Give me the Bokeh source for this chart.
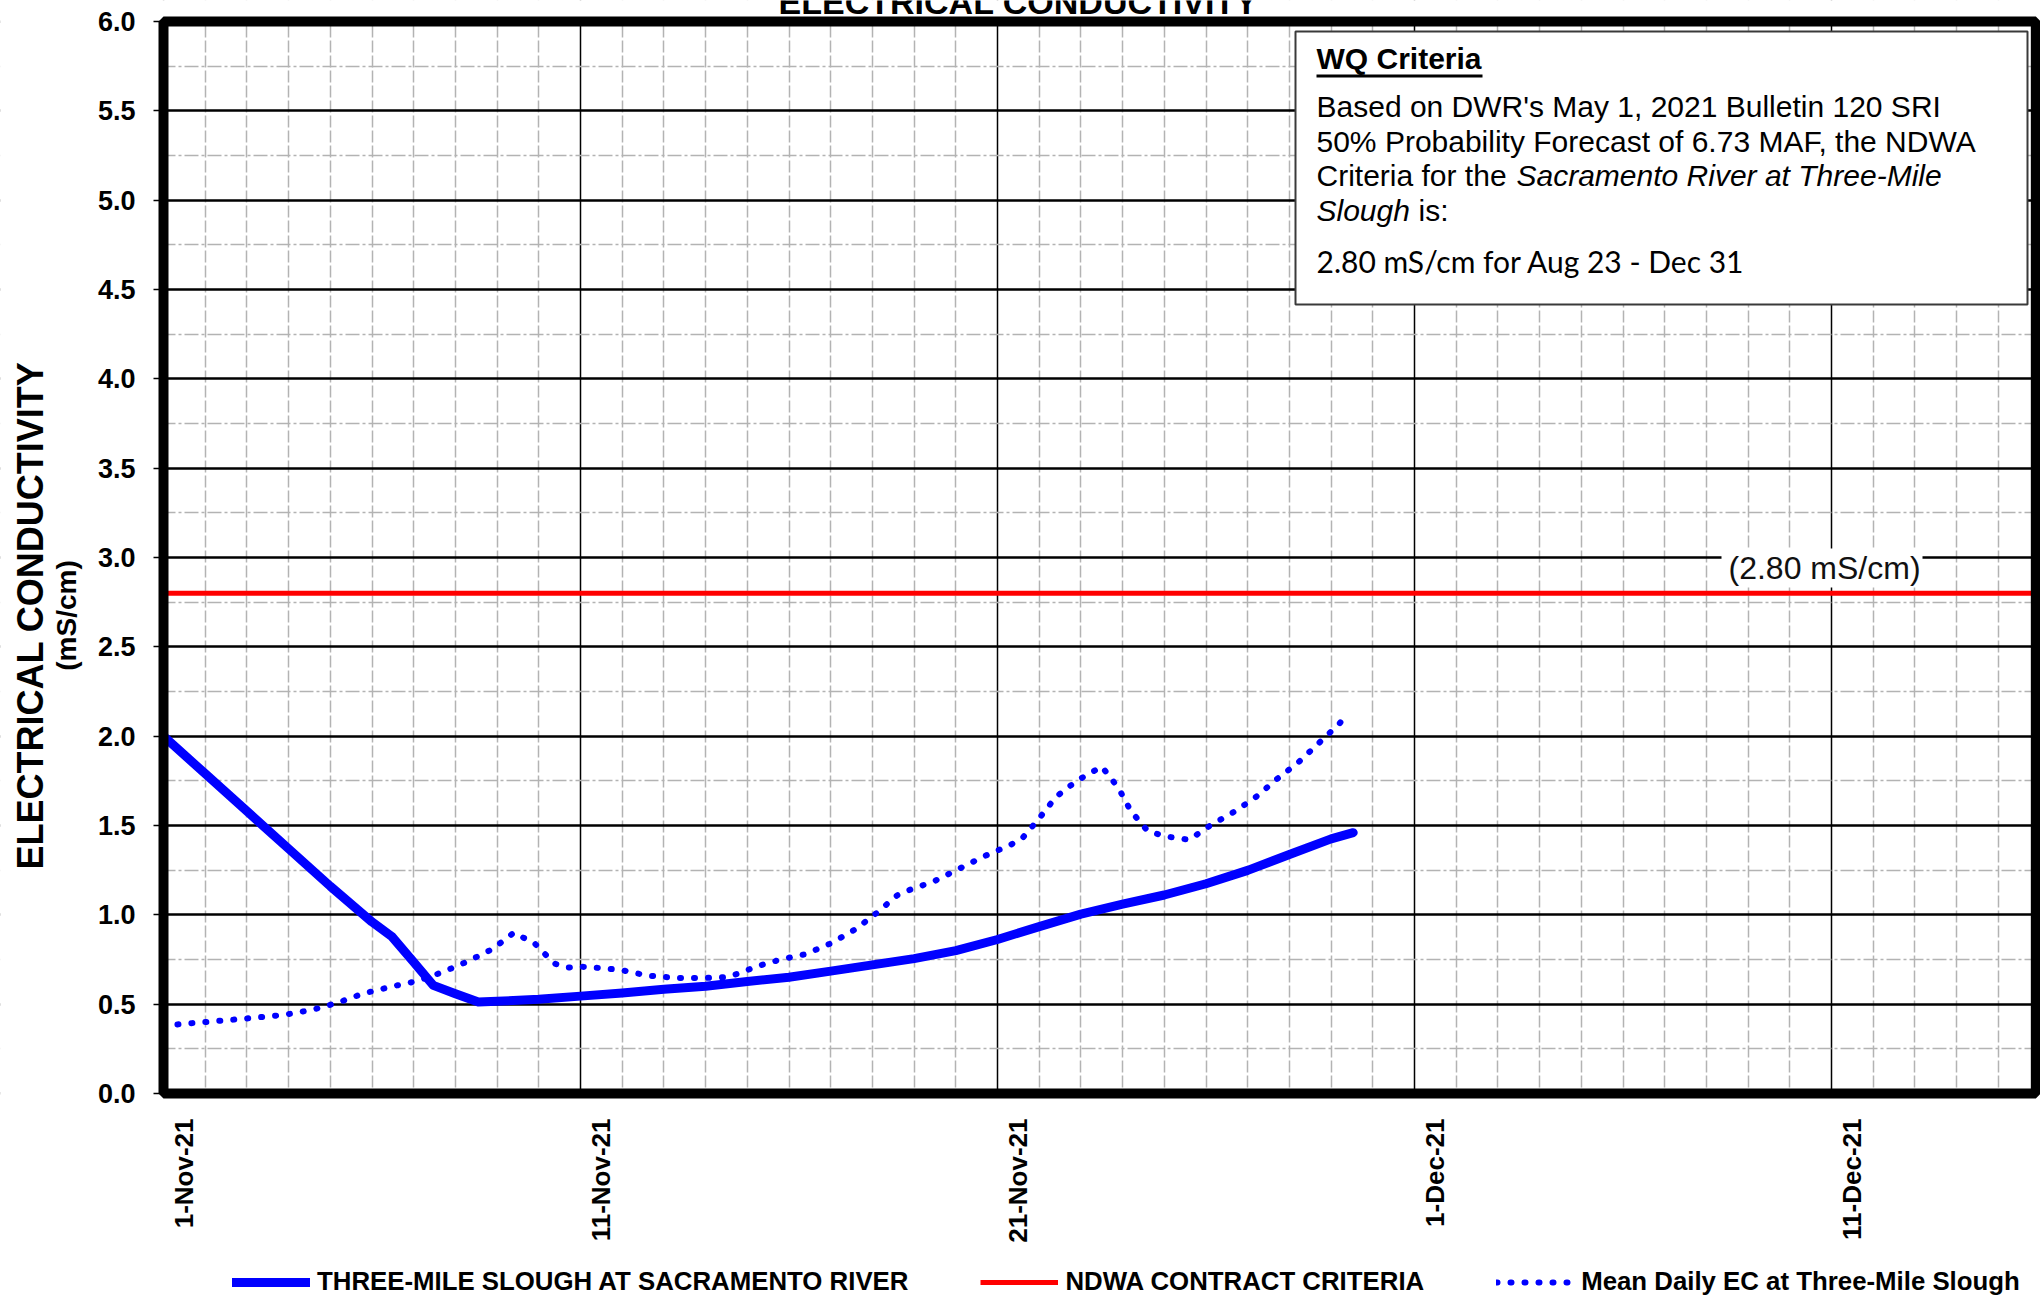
import math
from bokeh.plotting import figure
from bokeh.models import (Range1d, FixedTicker, Legend, LegendItem, Label, Grid,
                          BoxAnnotation, NumeralTickFormatter, LinearAxis)
from bokeh.embed import file_html
from bokeh.resources import INLINE

# ---------------- data ----------------
# x = days since 1-Nov-2021
tick_days = [0, 10, 20, 30, 40]
tick_labels = ["1-Nov-21", "11-Nov-21", "21-Nov-21", "1-Dec-21", "11-Dec-21"]
y_ticks = [0.0, 0.5, 1.0, 1.5, 2.0, 2.5, 3.0, 3.5, 4.0, 4.5, 5.0, 5.5, 6.0]
y_minor = [0.25, 0.75, 1.25, 1.75, 2.25, 2.75, 3.25, 3.75, 4.25, 4.75, 5.25, 5.75]
day_minor = [d for d in range(0, 45) if d % 10 != 0]

slough_day = [0, 1, 2, 3, 4, 5, 5.47, 6, 6.47, 7, 7.55, 8, 9, 10, 11, 12, 13, 14, 15,
              16, 17, 18, 19, 20, 21, 22, 23, 24, 25, 26, 27, 28, 28.53]
slough_ec = [2.0, 1.79, 1.58, 1.37, 1.16, 0.96, 0.88, 0.735, 0.605, 0.558, 0.512, 0.516,
             0.527, 0.545, 0.562, 0.583, 0.60, 0.627, 0.651, 0.685, 0.72, 0.755, 0.80,
             0.862, 0.934, 1.004, 1.06, 1.111, 1.174, 1.249, 1.338, 1.425, 1.46]

mean_day = [0.0, 1.0, 2.0, 2.9, 3.6, 4.2, 4.8, 5.5, 6.1, 6.7, 7.3, 7.9, 8.4, 8.9, 9.15,
            9.4, 9.7, 10.0, 10.6, 11.0, 11.6, 12.3, 12.9, 13.5, 13.9, 14.2, 14.8, 15.4,
            15.7, 16.0, 16.3, 16.6, 17.1, 17.6, 17.9, 18.5, 19.1, 19.7, 20.0, 20.3, 20.6,
            21.0, 21.4, 21.9, 22.5, 22.9, 23.2, 23.6, 24.0, 24.6, 25.1, 25.7, 26.2, 26.7,
            27.2, 27.7, 28.2, 28.4]
mean_ec = [0.38, 0.40, 0.42, 0.44, 0.47, 0.51, 0.56, 0.60, 0.63, 0.68, 0.74, 0.81, 0.90,
           0.84, 0.78, 0.725, 0.705, 0.71, 0.70, 0.69, 0.66, 0.647, 0.646, 0.651, 0.68,
           0.71, 0.75, 0.78, 0.81, 0.84, 0.88, 0.92, 1.01, 1.11, 1.14, 1.19, 1.26, 1.33,
           1.36, 1.39, 1.43, 1.54, 1.66, 1.75, 1.83, 1.71, 1.58, 1.47, 1.44, 1.42, 1.50,
           1.58, 1.66, 1.76, 1.85, 1.96, 2.07, 2.13]

criteria_day = [0, 45]
criteria_ec = [2.8, 2.8]

series_names = ["THREE-MILE SLOUGH AT SACRAMENTO RIVER", "NDWA CONTRACT CRITERIA",
                "Mean Daily EC at Three-Mile Slough"]

# ---------------- layout constants ----------------
FONT = "Liberation Sans"
W, H = 2040, 1297
X_END, Y_END = 44.9, 6.0          # visible plot-area extent (data units)
LEFT_PX, ZERO_PX = 163, 1093      # page position of x=0 and y=0
PX_DAY = 41.7
PX_UNIT = (ZERO_PX - 21) / Y_END
X0, X1 = -LEFT_PX / PX_DAY, (W - LEFT_PX) / PX_DAY
Y0, Y1 = -(H - ZERO_PX) / PX_UNIT, ZERO_PX / PX_UNIT

# the frame covers the whole canvas so that annotations outside the plot area show
p = figure(width=W, height=H, x_range=Range1d(X0, X1), y_range=Range1d(Y0, Y1),
           x_axis_location=None, y_axis_location=None,
           output_backend="svg", toolbar_location=None, min_border=0)
p.background_fill_color = "white"
p.border_fill_color = "white"
p.outline_line_color = None
p.center = [r for r in p.center if not isinstance(r, Grid)]


def sy(page_y):
    return H - page_y


# grids
p.add_layout(Grid(dimension=0, ticker=FixedTicker(ticks=tick_days, minor_ticks=day_minor),
                  grid_line_color="black", grid_line_width=1.5,
                  minor_grid_line_color="#b3b3b3", minor_grid_line_width=1.5,
                  minor_grid_line_dash="12 3"))
p.add_layout(Grid(dimension=1, ticker=FixedTicker(ticks=y_ticks, minor_ticks=y_minor),
                  grid_line_color="black", grid_line_width=2.5,
                  minor_grid_line_color="#b3b3b3", minor_grid_line_width=1.5,
                  minor_grid_line_dash="14 3 3 3"))

# white masks outside the plot area (hide grid lines there)
mask = dict(fill_color="white", fill_alpha=1, line_alpha=0, level="underlay")
pad_x, pad_y = 5, 1
p.add_layout(BoxAnnotation(left=X0 - pad_x, right=0, bottom=Y0 - pad_y, top=Y1 + pad_y, **mask))
p.add_layout(BoxAnnotation(left=X_END, right=X1 + pad_x, bottom=Y0 - pad_y, top=Y1 + pad_y, **mask))
p.add_layout(BoxAnnotation(left=X0 - pad_x, right=X1 + pad_x, bottom=Y0 - pad_y, top=0, **mask))
p.add_layout(BoxAnnotation(left=X0 - pad_x, right=X1 + pad_x, bottom=Y_END, top=Y1 + pad_y, **mask))

# axes fixed at the plot-area edges
label_ticks = [d + 0.5 for d in tick_days]
xaxis = LinearAxis(fixed_location=0, ticker=FixedTicker(ticks=label_ticks),
                   major_label_overrides={t: s for t, s in zip(label_ticks, tick_labels)},
                   major_label_orientation=math.pi / 2, axis_line_color=None,
                   major_tick_line_color=None, minor_tick_line_color=None,
                   major_label_standoff=19, major_label_text_font=FONT,
                   major_label_text_font_style="bold", major_label_text_font_size="26px",
                   major_label_text_color="black")
p.add_layout(xaxis, "below")
yaxis = LinearAxis(fixed_location=0, ticker=FixedTicker(ticks=y_ticks),
                   formatter=NumeralTickFormatter(format="0.0"), axis_line_color=None,
                   major_tick_out=10, major_tick_in=0, major_tick_line_width=1.5,
                   major_tick_line_color="black", minor_tick_line_color=None,
                   major_label_standoff=18, major_label_text_font=FONT,
                   major_label_text_font_style="bold", major_label_text_font_size="27px",
                   major_label_text_color="black")
p.add_layout(yaxis, "left")

# series
r_crit = p.line(criteria_day, criteria_ec, line_color="#FF0000", line_width=5)
r_slough = p.line(slough_day, slough_ec, line_color="#0000FF", line_width=9,
                  line_cap="round", line_join="round")
r_mean = p.line(mean_day, mean_ec, line_color="#0000FF", line_width=6,
                line_dash="1 13", line_cap="round")

# thick plot-area border
p.add_layout(BoxAnnotation(left=0, right=X_END, bottom=0, top=Y_END,
                           fill_alpha=0, line_color="black", line_alpha=1,
                           line_width=10))


def box(l, r, t, b, **kw):
    p.add_layout(BoxAnnotation(left=l, right=r, top=sy(t), bottom=sy(b),
                               left_units="screen", right_units="screen",
                               top_units="screen", bottom_units="screen", **kw))


def lab(x, page_y, text, size="30px", style="normal", font=FONT, **kw):
    opts = dict(text_baseline="middle", text_color="black")
    opts.update(kw)
    p.add_layout(Label(x=x, y=sy(page_y), x_units="screen", y_units="screen", text=text,
                       text_font=font, text_font_size=size, text_font_style=style,
                       **opts))


# criteria label with white background
box(1721, 1922, 548, 587, fill_color="white", fill_alpha=1, line_alpha=0)
lab(1728, 567, "(2.80 mS/cm)", size="32px", text_color="#111111")

# WQ Criteria box
box(1295, 2027, 31, 304, fill_color="white", fill_alpha=1,
    line_color="#3a3a3a", line_alpha=1, line_width=2)
box(1316, 1482, 74, 77, fill_color="black", fill_alpha=1, line_alpha=0)
lab(1316, 57.6, "WQ Criteria", style="bold")
lab(1316, 105.6, "Based on DWR's May 1, 2021 Bulletin 120 SRI")
lab(1316, 140.6, "50% Probability Forecast of 6.73 MAF, the NDWA")
lab(1316, 174.6, "Criteria for the ")
lab(1516, 174.6, "Sacramento River at Three-Mile", style="italic")
lab(1316, 209.6, "Slough", style="italic")
lab(1418, 209.6, "is:")
lab(1316, 260.4, "2.80 mS/cm for Aug 23 - Dec 31", size="30px", font="Lato")

# main title (cropped at the top edge, as in the reference)
lab(1018, 1.2, "ELECTRICAL CONDUCTIVITY", size="34px", style="bold", text_align="center")

# y axis titles
lab(30, 615, "ELECTRICAL CONDUCTIVITY", size="36px", style="bold",
    text_align="center", angle=math.pi / 2)
lab(66, 615, "(mS/cm)", size="28px", style="bold",
    text_align="center", angle=math.pi / 2)

# legend below the chart
legend = Legend(items=[LegendItem(label=series_names[0], renderers=[r_slough]),
                       LegendItem(label=series_names[1], renderers=[r_crit]),
                       LegendItem(label=series_names[2], renderers=[r_mean])],
                orientation="horizontal", location=(232, 1),
                glyph_width=78, glyph_height=26, label_height=26,
                label_standoff=7, spacing=72, padding=0, margin=0,
                border_line_color=None, background_fill_alpha=0,
                label_text_font=FONT, label_text_font_style="bold",
                label_text_font_size="25.8px", label_text_color="black")
p.add_layout(legend, "center")

with open("out.html", "w") as f:
    f.write(file_html(p, INLINE))
